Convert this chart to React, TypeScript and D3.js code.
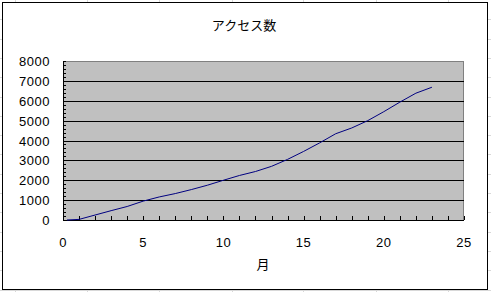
import React from 'react';
import * as d3 from 'd3';

// アクセス数 per 月
const months = [0.25, 1, 2, 3, 4, 5, 6, 7, 8, 9, 10, 11, 12, 13, 14, 15, 16, 17, 18, 19, 20, 21, 22, 23];
const access = [0, 30, 250, 470, 680, 950, 1160, 1330, 1530, 1750, 2000, 2240, 2440, 2700, 3050, 3450, 3880, 4340, 4630, 5000, 5450, 5930, 6380, 6680];

const xTicks = [0, 5, 10, 15, 20, 25];
const yTicks = [0, 1000, 2000, 3000, 4000, 5000, 6000, 7000, 8000];

const title = 'アクセス数';
const xTitle = '月';

const W = 491;
const H = 292;
const plot = { left: 63, right: 464, top: 61, bottom: 220 };

const numFont = '"Liberation Sans", Arial, sans-serif';
const jpFont = '"Noto Sans CJK JP", sans-serif';

export default function App() {
  const x = d3.scaleLinear().domain([0, 25]).range([plot.left, plot.right]);
  const y = d3.scaleLinear().domain([0, 8000]).range([plot.bottom, plot.top]);

  const line = d3.line<number>()
    .x((_, i) => x(months[i]))
    .y(d => y(d));

  const minorY = d3.range(0, 8001, 200);
  const minorX = d3.range(0, 26, 1);

  // faint spreadsheet cells behind the chart
  const sheetCols = [15, 87, 159, 232, 303, 376, 448];
  const sheetRows = d3.range(1, 16).map(i => i * 19.3);

  return (
    <svg width={W} height={H} style={{ position: 'absolute', left: 0, top: 0, background: '#fff' }}>
      {sheetCols.map(c => (
        <line key={'c' + c} x1={c + 0.5} x2={c + 0.5} y1={0} y2={H} stroke="#d8d8d8" />
      ))}
      {sheetRows.map(r => (
        <line key={'r' + r} x1={0} x2={W} y1={Math.round(r) + 0.5} y2={Math.round(r) + 0.5} stroke="#d8d8d8" />
      ))}
      <rect x={2.5} y={2.5} width={485} height={287} fill="#fff" stroke="#000" />

      <text x={244} y={30} textAnchor="middle" fontFamily={jpFont} fontSize={13} fill="#000">{title}</text>

      <rect x={plot.left} y={plot.top} width={plot.right - plot.left} height={plot.bottom - plot.top} fill="#c0c0c0" />
      <line x1={plot.left} x2={plot.right} y1={plot.top + 0.5} y2={plot.top + 0.5} stroke="#808080" />
      <line x1={plot.right - 0.5} x2={plot.right - 0.5} y1={plot.top} y2={plot.bottom} stroke="#808080" />

      {yTicks.slice(1, -1).map(t => (
        <line key={'g' + t} x1={plot.left} x2={plot.right} y1={Math.round(y(t)) + 0.5} y2={Math.round(y(t)) + 0.5} stroke="#000" />
      ))}

      {minorY.map(t => (
        <line key={'my' + t} x1={plot.left} x2={plot.left + 3} y1={Math.round(y(t)) + 0.5} y2={Math.round(y(t)) + 0.5} stroke="#000" />
      ))}
      {minorX.map(t => (
        <line key={'mx' + t} x1={Math.round(x(t)) + 0.5} x2={Math.round(x(t)) + 0.5} y1={plot.bottom} y2={plot.bottom - 4} stroke="#000" />
      ))}

      <line x1={plot.left + 0.5} x2={plot.left + 0.5} y1={plot.top} y2={plot.bottom + 1} stroke="#000" />
      <line x1={plot.left} x2={plot.right} y1={plot.bottom + 0.5} y2={plot.bottom + 0.5} stroke="#000" />

      <path d={line(access) || ''} fill="none" stroke="#000080" strokeWidth={1} />

      {yTicks.map(t => (
        <text key={'yl' + t} x={50} y={y(t) + 5} textAnchor="end" fontFamily={numFont} fontSize={13} letterSpacing={0.5} fill="#000">{t}</text>
      ))}
      {xTicks.map(t => (
        <text key={'xl' + t} x={x(t)} y={247} textAnchor="middle" fontFamily={numFont} fontSize={13} letterSpacing={0.5} fill="#000">{t}</text>
      ))}

      <text x={263} y={269} textAnchor="middle" fontFamily={jpFont} fontSize={13} fill="#000">{xTitle}</text>
    </svg>
  );
}
